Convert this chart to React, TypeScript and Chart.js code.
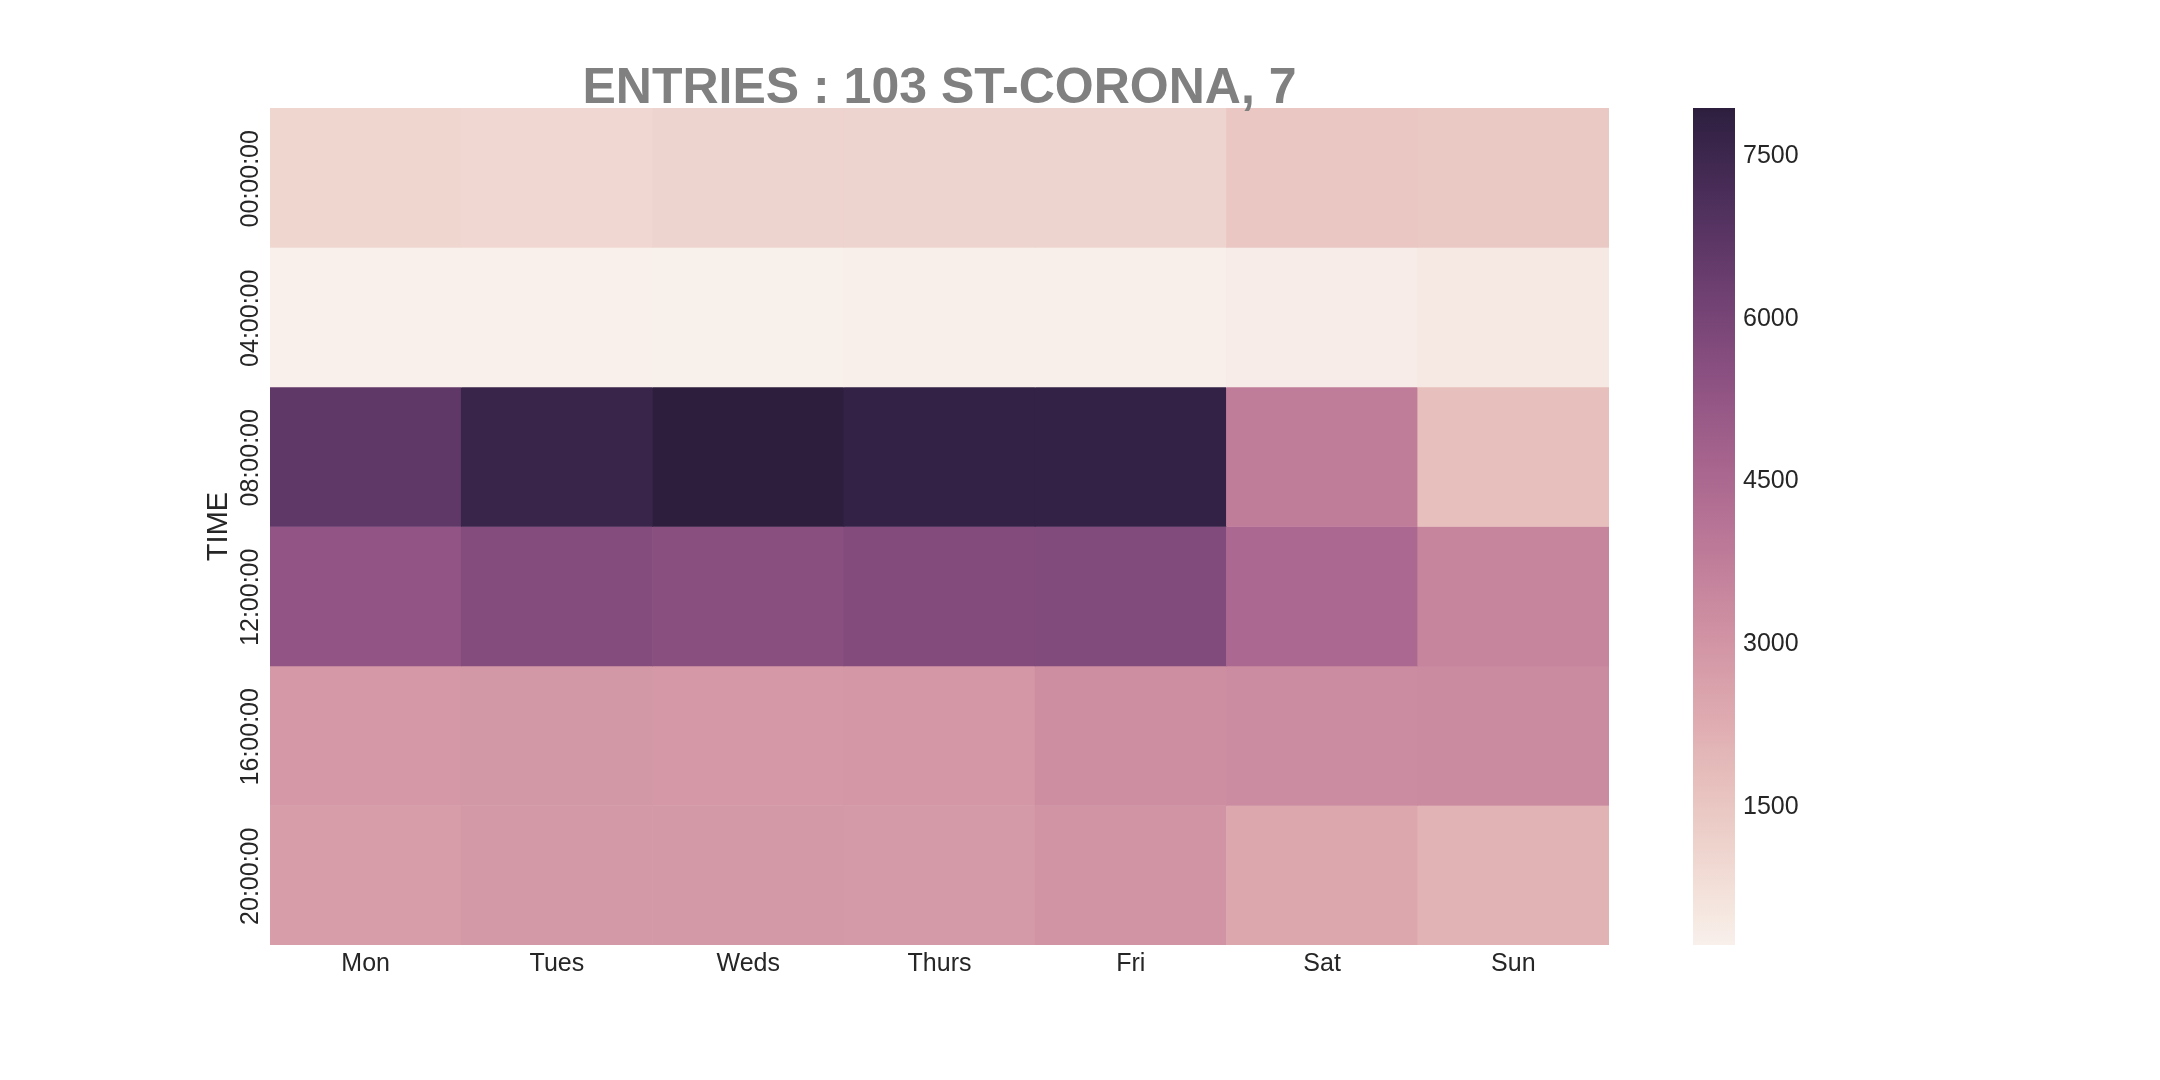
import { useEffect, useRef } from "react";
import { Chart, registerables } from "chart.js";

Chart.register(...registerables);

// データ
const days = ["Mon", "Tues", "Weds", "Thurs", "Fri", "Sat", "Sun"];
const times = ["00:00:00", "04:00:00", "08:00:00", "12:00:00", "16:00:00", "20:00:00"];

const entries00 = [1000, 980, 1080, 1080, 1080, 1450, 1420];
const entries04 = [215, 206, 230, 240, 250, 330, 430];
const entries08 = [6600, 7600, 7924, 7750, 7750, 3750, 1700];
const entries12 = [5300, 5650, 5550, 5700, 5720, 4500, 3500];
const entries16 = [2870, 2900, 2870, 2920, 3200, 3300, 3330];
const entries20 = [2700, 2850, 2850, 2830, 3000, 2400, 2050];

const rows = [entries00, entries04, entries08, entries12, entries16, entries20];
const colorbarTicks = [1500, 3000, 4500, 6000, 7500];

const titleText = "ENTRIES : 103 ST-CORONA, 7";
const FONT = '"Liberation Sans", Arial, sans-serif';
const TEXT = "#262626";

const vmin = Math.min(...rows.flat());
const vmax = Math.max(...rows.flat());

// seaborn の cubehelix_palette(light=.95, as_cmap=True) と同じ色
function cubehelix(t: number) {
  const light = 0.95, dark = 0.15, start = 0, rot = 0.4, hue = 0.8;
  const x = light + (dark - light) * t;
  const a = (hue * x * (1 - x)) / 2;
  const phi = 2 * Math.PI * (start / 3 + rot * x);
  const c = Math.cos(phi), s = Math.sin(phi);
  const ch = (p0: number, p1: number) =>
    Math.round(255 * Math.min(1, Math.max(0, x + a * (p0 * c + p1 * s))));
  return `rgb(${ch(-0.14861, 1.78277)}, ${ch(-0.29227, -0.90649)}, ${ch(1.97294, 0)})`;
}
const colorFor = (v: number) => cubehelix((v - vmin) / (vmax - vmin));

// タイトル（プロット領域の中央に描く）
const titlePlugin = {
  id: "plotTitle",
  afterDraw(chart: any) {
    const { ctx, chartArea } = chart;
    ctx.save();
    ctx.font = `bold 50px ${FONT}`;
    ctx.fillStyle = "#808080";
    ctx.textAlign = "center";
    ctx.textBaseline = "alphabetic";
    ctx.fillText(titleText, (chartArea.left + chartArea.right) / 2, 103);
    ctx.restore();
  },
};

function Heatmap() {
  const canvasRef = useRef<HTMLCanvasElement>(null);
  const chartRef = useRef<Chart | null>(null);

  useEffect(() => {
    if (!canvasRef.current) return;
    chartRef.current?.destroy();

    chartRef.current = new Chart(canvasRef.current, {
      type: "bar",
      data: {
        labels: days,
        datasets: rows.map((row, i) => ({
          label: times[i],
          data: row.map(() => [i, i + 1]),
          backgroundColor: row.map(colorFor),
          borderWidth: 0,
          barPercentage: 1,
          categoryPercentage: 1,
          grouped: false,
        })),
      },
      options: {
        animation: false,
        responsive: true,
        maintainAspectRatio: false,
        events: [],
        layout: { padding: { left: 0, top: 108, right: 71, bottom: 75 } },
        plugins: { legend: { display: false }, tooltip: { enabled: false } },
        scales: {
          x: {
            grid: { display: false, drawTicks: false },
            border: { display: false },
            ticks: { color: TEXT, font: { family: FONT, size: 25 }, padding: 4 },
            afterFit: (scale: any) => {
              scale.height = 60;
            },
          },
          y: {
            type: "linear",
            min: 0,
            max: times.length,
            reverse: true,
            grid: { display: false, drawTicks: false },
            border: { display: false },
            afterBuildTicks: (scale: any) => {
              scale.ticks = times.map((_, i) => ({ value: i + 0.5 }));
            },
            afterFit: (scale: any) => {
              scale.width = 270;
            },
            ticks: {
              autoSkip: false,
              minRotation: 90,
              maxRotation: 90,
              crossAlign: "center",
              padding: -30,
              labelOffset: 1,
              color: TEXT,
              font: { family: FONT, size: 25 },
              callback: (value: any) => times[Math.floor(Number(value))],
            },
            title: {
              display: true,
              text: "TIME",
              color: TEXT,
              font: { family: FONT, size: 29 },
              padding: { top: 201.6, bottom: 0 },
            },
          },
        },
      },
      plugins: [titlePlugin],
    } as any);

    return () => {
      chartRef.current?.destroy();
      chartRef.current = null;
    };
  }, []);

  return (
    <div style={{ position: "absolute", left: 0, top: 0, width: 1680, height: 1080 }}>
      <canvas ref={canvasRef} />
    </div>
  );
}

function Colorbar() {
  const canvasRef = useRef<HTMLCanvasElement>(null);
  const chartRef = useRef<Chart | null>(null);

  useEffect(() => {
    if (!canvasRef.current) return;
    chartRef.current?.destroy();

    chartRef.current = new Chart(canvasRef.current, {
      type: "bar",
      data: {
        labels: [""],
        datasets: [
          {
            data: [[vmin, vmax]],
            backgroundColor: (ctx: any) => {
              const { chart } = ctx;
              const y = chart.scales?.y;
              if (!chart.chartArea || !y) return colorFor(vmin);
              const g = chart.ctx.createLinearGradient(0, y.getPixelForValue(vmin), 0, y.getPixelForValue(vmax));
              const n = 64;
              for (let k = 0; k <= n; k++) g.addColorStop(k / n, cubehelix(k / n));
              return g;
            },
            borderWidth: 0,
            barPercentage: 1,
            categoryPercentage: 1,
          },
        ],
      },
      options: {
        animation: false,
        responsive: true,
        maintainAspectRatio: false,
        events: [],
        layout: { padding: { left: 0, top: 108, right: 0, bottom: 135 } },
        plugins: { legend: { display: false }, tooltip: { enabled: false } },
        scales: {
          x: { display: false },
          y: {
            position: "right",
            min: vmin,
            max: vmax,
            grid: { display: false, drawTicks: false },
            border: { display: false },
            afterBuildTicks: (scale: any) => {
              scale.ticks = colorbarTicks.map((v) => ({ value: v }));
            },
            afterFit: (scale: any) => {
              scale.width = 158;
            },
            ticks: {
              autoSkip: false,
              padding: 8,
              labelOffset: 2,
              color: TEXT,
              font: { family: FONT, size: 25 },
              callback: (value: any) => String(value),
            },
          },
        },
      },
    } as any);

    return () => {
      chartRef.current?.destroy();
      chartRef.current = null;
    };
  }, []);

  return (
    <div style={{ position: "absolute", left: 1693, top: 0, width: 200, height: 1080 }}>
      <canvas ref={canvasRef} />
    </div>
  );
}

export default function App() {
  return (
    <div style={{ position: "fixed", left: 0, top: 0, width: 2160, height: 1080, background: "#fff" }}>
      <Heatmap />
      <Colorbar />
    </div>
  );
}
